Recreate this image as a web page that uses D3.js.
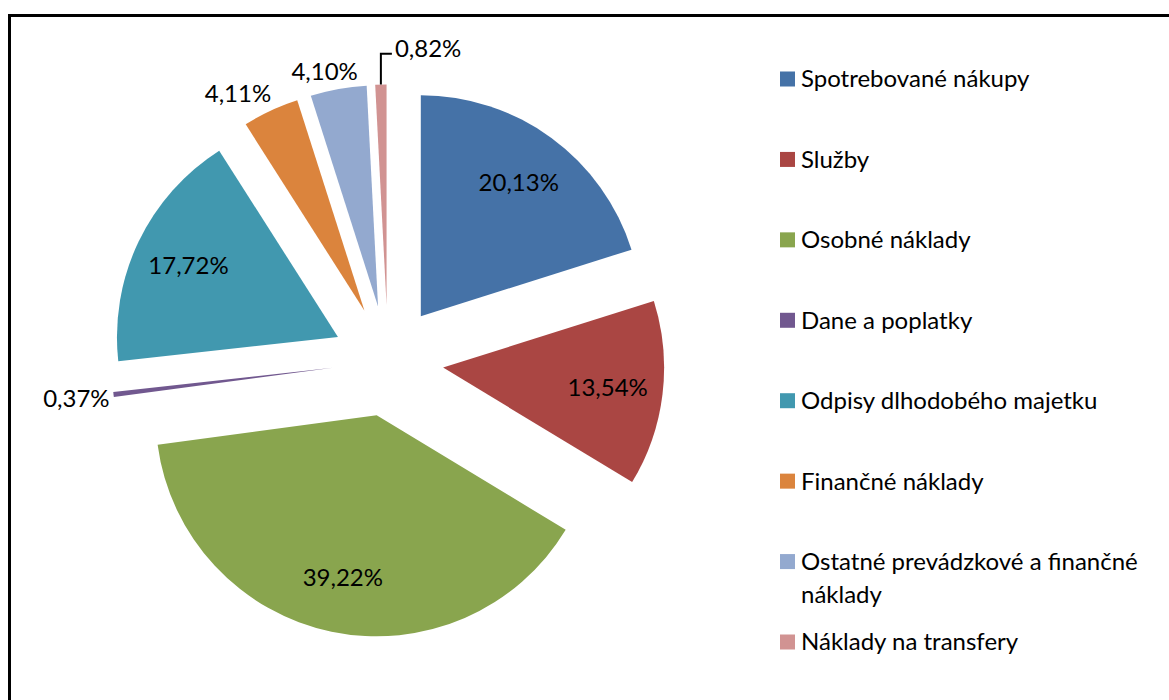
<!DOCTYPE html>
<html>
<head>
<meta charset="utf-8">
<script src="https://cdn.jsdelivr.net/npm/d3@7"></script>
<style>
  body { margin: 0; background: #fff; }
  text { font-family: Lato, "Open Sans", sans-serif; fill: #000; }
</style>
</head>
<body>
<div id="chart"></div>
<script>
// data
var categories = [
  "Spotrebované nákupy",
  "Služby",
  "Osobné náklady",
  "Dane a poplatky",
  "Odpisy dlhodobého majetku",
  "Finančné náklady",
  "Ostatné prevádzkové a finančné náklady",
  "Náklady na transfery"
];
var shares = [20.13, 13.54, 39.22, 0.37, 17.72, 4.11, 4.10, 0.82];
var labels = ["20,13%", "13,54%", "39,22%", "0,37%", "17,72%", "4,11%", "4,10%", "0,82%"];
var colors = ["#4572A7", "#AA4643", "#89A54E", "#71588F", "#4198AF", "#DB843D", "#93A9CF", "#D19392"];

var width = 1169, height = 700;
var fontSize = 24;

var svg = d3.select("#chart").append("svg")
  .attr("width", width)
  .attr("height", height);

// frame (right and bottom edges run off the picture)
svg.append("rect")
  .attr("x", 9.5).attr("y", 15.5)
  .attr("width", width + 20).attr("height", height + 20)
  .attr("fill", "none")
  .attr("stroke", "#000")
  .attr("stroke-width", 3);

var cx = 388, cy = 361;
var radius = 221, explode = 55.5;

var data = categories.map(function(c, i) { return {name: c, value: shares[i], label: labels[i], color: colors[i]}; });

var pie = d3.pie().sort(null).value(function(d) { return d.value; });
var arcs = pie(data);
var arc = d3.arc().innerRadius(0).outerRadius(radius);
var labelArc = d3.arc().innerRadius(radius * 0.75).outerRadius(radius * 0.75);

function mid(a) { return (a.startAngle + a.endAngle) / 2; }
function shift(a) {
  var m = mid(a);
  return [explode * Math.sin(m), -explode * Math.cos(m)];
}
function clamp01(v) { return Math.max(0, Math.min(1, v)); }

var g = svg.append("g").attr("transform", "translate(" + cx + "," + cy + ")");

var slices = g.selectAll("g.slice")
  .data(arcs)
  .enter().append("g")
  .classed("slice", true)
  .attr("transform", function(d) { var s = shift(d); return "translate(" + s[0] + "," + s[1] + ")"; });

slices.append("path")
  .attr("d", arc)
  .attr("fill", function(d) { return d.data.color; });

// labels: inside for big slices, outside for small ones
var placed = [];
arcs.forEach(function(d) {
  var s = shift(d);
  var m = mid(d);
  var t = g.append("text")
    .attr("font-size", fontSize)
    .attr("text-anchor", "middle")
    .attr("dy", "0.35em")
    .text(d.data.label);
  if (d.data.value > 10) {
    var c = labelArc.centroid(d);
    t.attr("x", s[0] + c[0]).attr("y", s[1] + c[1]);
    return;
  }
  var w = t.node().getComputedTextLength();
  var h = fontSize * 1.1;
  // anchor point just outside the slice edge, box hung off it by direction
  var px = s[0] + (radius + 4) * Math.sin(m), py = s[1] - (radius + 4) * Math.cos(m);
  var fx = clamp01(0.5 - 1.1 * Math.sin(m));
  var fy = clamp01(0.5 + 1.2 * Math.cos(m));
  var x = px - fx * w + w / 2, y = py - fy * h + h / 2;
  var box = {x0: x - w / 2, x1: x + w / 2, y0: y - h / 2, y1: y + h / 2};
  var hit = placed.filter(function(b) {
    return box.x0 < b.x1 && box.x1 > b.x0 && box.y0 < b.y1 && box.y1 > b.y0;
  })[0];
  if (hit) {
    // leader line: straight up from slice edge, then to the right
    var ex = s[0] + radius * Math.sin(m), ey = s[1] - radius * Math.cos(m);
    var ly = (hit.y0 + hit.y1) / 2 - 23;
    g.append("path")
      .attr("d", "M" + ex + "," + ey + "V" + (ly + 5) + "H" + (ex + 11))
      .attr("fill", "none")
      .attr("stroke", "#000")
      .attr("stroke-width", 2);
    t.attr("text-anchor", "start").attr("x", ex + 14).attr("y", ly);
    box = {x0: ex + 14, x1: ex + 14 + w, y0: ly - h / 2, y1: ly + h / 2};
  } else {
    t.attr("x", x).attr("y", y);
  }
  placed.push(box);
});

// legend
var legendY = d3.scalePoint().domain(categories).range([79, 642]);
var legend = svg.append("g");
var maxW = 360;

categories.forEach(function(c, i) {
  var y = legendY(c);
  legend.append("rect")
    .attr("x", 780).attr("y", y - 7.5)
    .attr("width", 15).attr("height", 15)
    .attr("fill", colors[i]);
  var t = legend.append("text")
    .attr("x", 801).attr("y", y)
    .attr("dy", "0.35em")
    .attr("font-size", fontSize);
  // simple word wrap
  var words = c.split(" "), line = [], tspan = t.append("tspan").attr("x", 801);
  words.forEach(function(wd) {
    line.push(wd);
    tspan.text(line.join(" "));
    if (tspan.node().getComputedTextLength() > maxW && line.length > 1) {
      line.pop();
      tspan.text(line.join(" "));
      line = [wd];
      tspan = t.append("tspan").attr("x", 801).attr("dy", 33).text(wd);
    }
  });
});
</script>
</body>
</html>
